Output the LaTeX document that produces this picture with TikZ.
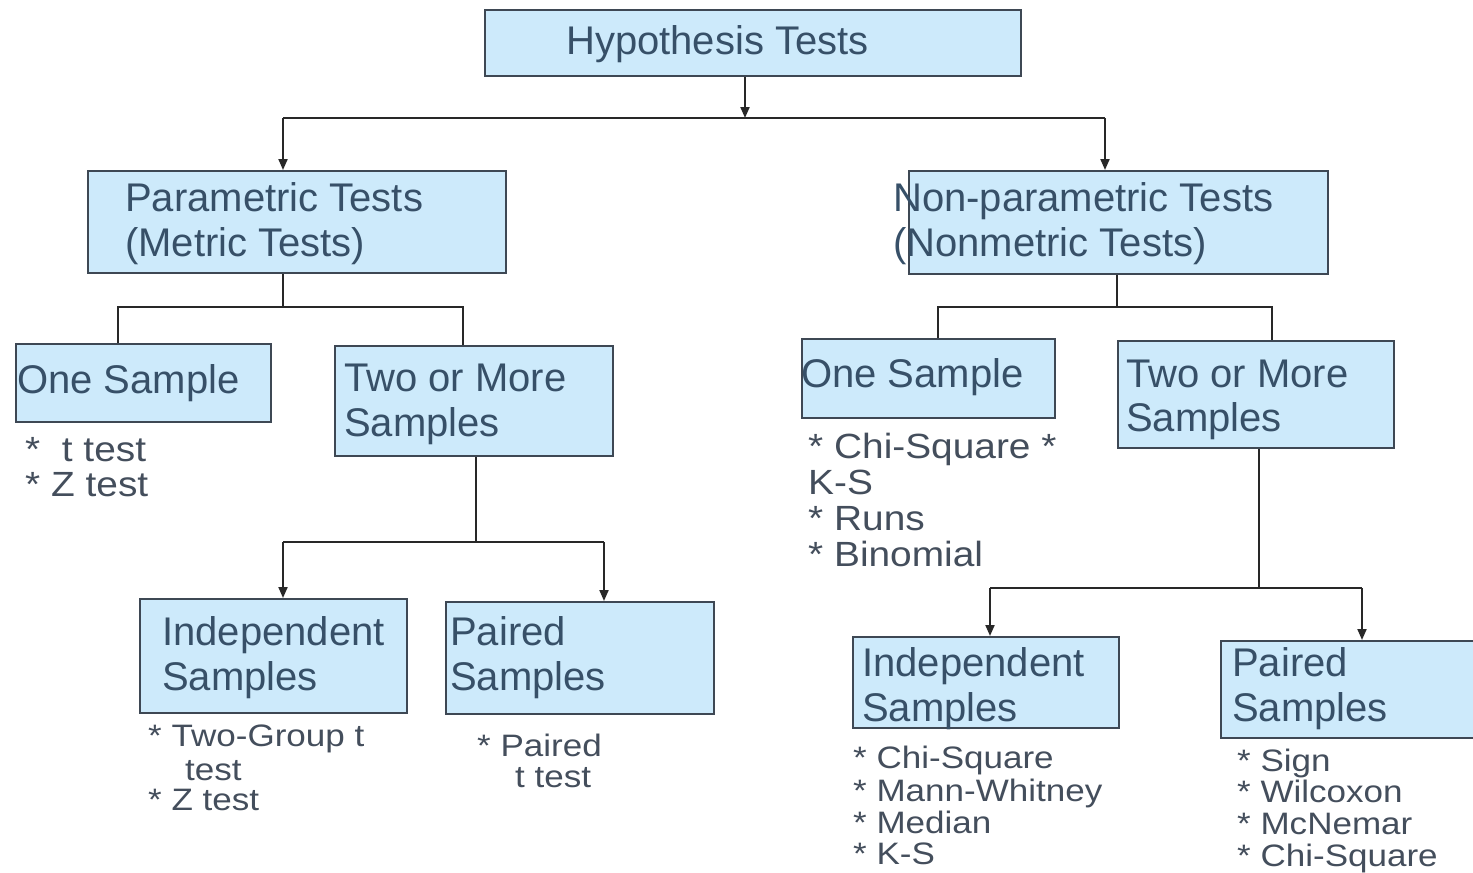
\documentclass[tikz,border=0pt]{standalone}
\usepackage{fontspec}
\setmainfont{Liberation Sans}
\usetikzlibrary{arrows.meta}
\definecolor{boxfill}{RGB}{205,234,251}
\definecolor{boxline}{RGB}{62,72,84}
\definecolor{boxtext}{RGB}{55,80,104}
\definecolor{listtext}{RGB}{68,78,92}
\definecolor{connline}{RGB}{40,40,40}
\tikzset{
  box/.style={draw=boxline, fill=boxfill, line width=2pt, inner sep=0pt, anchor=north west},
  btxt/.style={anchor=base west, inner sep=0pt, text=boxtext, font=\fontsize{40}{45}\selectfont},
  ltxt/.style={anchor=base west, inner sep=0pt, text=listtext, font=\fontsize{35}{40}\selectfont, xscale=1.11},
  stxt/.style={anchor=base west, inner sep=0pt, text=listtext, font=\fontsize{31}{36}\selectfont, xscale=1.13},
  conn/.style={draw=connline, line width=2pt},
  arr/.style={conn, -{Triangle[length=11pt,width=9pt]}}
}
\begin{document}
\begin{tikzpicture}[x=1pt,y=-1pt]
\useasboundingbox (0,0) rectangle (1473,873);
% boxes
\node[box, minimum width=536pt, minimum height=66pt] (ht) at (484,9) {};
\node[box, minimum width=418pt, minimum height=102pt] (pt) at (87,170) {};
\node[box, minimum width=419pt, minimum height=103pt] (npt) at (908,170) {};
\node[box, minimum width=255pt, minimum height=78pt] (os1) at (15,343) {};
\node[box, minimum width=278pt, minimum height=110pt] (tm1) at (334,345) {};
\node[box, minimum width=267pt, minimum height=114pt] (ind1) at (139,598) {};
\node[box, minimum width=268pt, minimum height=112pt] (pair1) at (445,601) {};
\node[box, minimum width=253pt, minimum height=79pt] (os2) at (801,338) {};
\node[box, minimum width=276pt, minimum height=107pt] (tm2) at (1117,340) {};
\node[box, minimum width=266pt, minimum height=91pt] (ind2) at (852,636) {};
\node[box, minimum width=262pt, minimum height=97pt] (pair2) at (1220,640) {};
% box labels
\node[btxt] (htl) at (566,54) {Hypothesis Tests};
\node[btxt] (ptl1) at (125,211) {Parametric Tests};
\node[btxt] (ptl2) at (125,256) {(Metric Tests)};
\node[btxt] (nptl1) at (893,211) {Non-parametric Tests};
\node[btxt] (nptl2) at (893,256) {(Nonmetric Tests)};
\node[btxt] (os1l) at (17,393) {One Sample};
\node[btxt] (tm1l1) at (344,391) {Two or More};
\node[btxt] (tm1l2) at (344,436) {Samples};
\node[btxt] (ind1l1) at (162,645) {Independent};
\node[btxt] (ind1l2) at (162,690) {Samples};
\node[btxt] (pair1l1) at (450,645) {Paired};
\node[btxt] (pair1l2) at (450,690) {Samples};
\node[btxt] (os2l) at (801,387) {One Sample};
\node[btxt] (tm2l1) at (1126,387) {Two or More};
\node[btxt] (tm2l2) at (1126,431) {Samples};
\node[btxt] (ind2l1) at (862,676) {Independent};
\node[btxt] (ind2l2) at (862,721) {Samples};
\node[btxt] (pair2l1) at (1232,676) {Paired};
\node[btxt] (pair2l2) at (1232,721) {Samples};
% lists
\node[ltxt] (la1) at (25,461) {*\ \ t test};
\node[ltxt] (la2) at (25,496) {* Z test};
\node[stxt] (lb1) at (148,746) {* Two-Group t};
\node[stxt] (lb2) at (185,780) {test};
\node[stxt] (lb3) at (148,810) {* Z test};
\node[stxt] (lc1) at (477,756) {* Paired};
\node[stxt] (lc2) at (515,787) {t test};
\node[ltxt] (ld1) at (808,458) {* Chi-Square *};
\node[ltxt] (ld2) at (808,494) {K-S};
\node[ltxt] (ld3) at (808,530) {* Runs};
\node[ltxt] (ld4) at (808,566) {* Binomial};
\node[stxt] (le1) at (853,768) {* Chi-Square};
\node[stxt] (le2) at (853,801) {* Mann-Whitney};
\node[stxt] (le3) at (853,833) {* Median};
\node[stxt] (le4) at (853,864) {* K-S};
\node[stxt] (lf1) at (1237,771) {* Sign};
\node[stxt] (lf2) at (1237,802) {* Wilcoxon};
\node[stxt] (lf3) at (1237,834) {* McNemar};
\node[stxt] (lf4) at (1237,866) {* Chi-Square};
% connectors top
\coordinate (j0) at (745,118);
\coordinate (jL) at (283,118);
\coordinate (jR) at (1105,118);
\draw[arr] (ht.south -| j0) -- (j0);
\draw[conn] (jL) -- (jR);
\draw[arr] (jL) -- (pt.north -| jL);
\draw[arr] (jR) -- (npt.north -| jR);
% left
\coordinate (p1) at (283,307);
\coordinate (p1L) at (118,307);
\coordinate (p1R) at (463,307);
\draw[conn] (pt.south -| p1) -- (p1);
\draw[conn] (os1.north -| p1L) -- (p1L) -- (p1R) -- (tm1.north -| p1R);
\coordinate (q1) at (476,542);
\coordinate (q1L) at (283,542);
\coordinate (q1R) at (604,542);
\draw[conn] (tm1.south -| q1) -- (q1);
\draw[conn] (q1L) -- (q1R);
\draw[arr] (q1L) -- (ind1.north -| q1L);
\draw[arr] (q1R) -- (pair1.north -| q1R);
% right
\coordinate (p2) at (1117,307);
\coordinate (p2L) at (938,307);
\coordinate (p2R) at (1272,307);
\draw[conn] (npt.south -| p2) -- (p2);
\draw[conn] (os2.north -| p2L) -- (p2L) -- (p2R) -- (tm2.north -| p2R);
\coordinate (q2) at (1259,588);
\coordinate (q2L) at (990,588);
\coordinate (q2R) at (1362,588);
\draw[conn] (tm2.south -| q2) -- (q2);
\draw[conn] (q2L) -- (q2R);
\draw[arr] (q2L) -- (ind2.north -| q2L);
\draw[arr] (q2R) -- (pair2.north -| q2R);
\end{tikzpicture}
\end{document}
